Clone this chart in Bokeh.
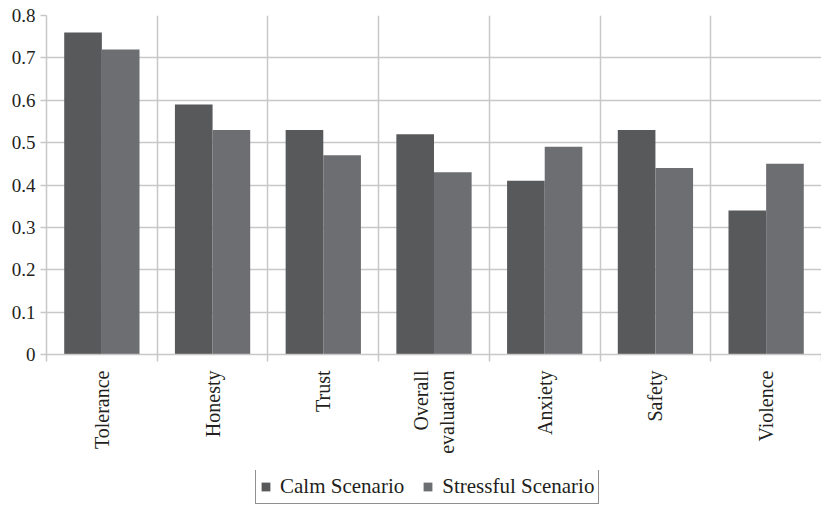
import math
from bokeh.plotting import figure
from bokeh.layouts import column
from bokeh.models import Range1d, FixedTicker, Legend, LegendItem, ColumnDataSource
from bokeh.embed import file_html
from bokeh.resources import INLINE

# Ratings per attribute for the two scenarios
categories = ["Tolerance", "Honesty", "Trust", "Overall\nevaluation", "Anxiety", "Safety", "Violence"]
calm = [0.76, 0.59, 0.53, 0.52, 0.41, 0.53, 0.34]
stressful = [0.72, 0.53, 0.47, 0.43, 0.49, 0.44, 0.45]
y_ticks = [0, 0.1, 0.2, 0.3, 0.4, 0.5, 0.6, 0.7, 0.8]
y_labels = ["0", "0.1", "0.2", "0.3", "0.4", "0.5", "0.6", "0.7", "0.8"]
series_names = ["Calm Scenario", "Stressful Scenario"]

FONT = "Liberation Serif"
TEXT = "#231f20"
GRID = "#c8c8c8"
CALM_COLOR = "#58595b"
STRESS_COLOR = "#6d6e71"
BAR_W = 0.34

n = len(categories)
centers = [i + 0.5 for i in range(n)]
src = ColumnDataSource(dict(
    calm_x=[c - BAR_W / 2 for c in centers],
    stress_x=[c + BAR_W / 2 for c in centers],
    calm=calm,
    stressful=stressful,
))

p = figure(width=821, height=470, output_backend="svg", toolbar_location=None,
           x_range=Range1d(0, n), y_range=Range1d(0, 0.8),
           min_border_left=46, min_border_right=0, min_border_top=15,
           min_border_bottom=116)
p.outline_line_color = None

p.vbar(x="calm_x", top="calm", width=BAR_W, source=src,
       fill_color=CALM_COLOR, line_color=None)
p.vbar(x="stress_x", top="stressful", width=BAR_W, source=src,
       fill_color=STRESS_COLOR, line_color=None)

# x axis: labels at category centres, tick marks at category boundaries
xa = p.xaxis[0]
xa.ticker = FixedTicker(ticks=centers, minor_ticks=list(range(n + 1)))
xa.major_label_overrides = {c: lab for c, lab in zip(centers, categories)}
xa.major_label_orientation = math.pi / 2
xa.major_tick_line_color = None
xa.minor_tick_line_color = GRID
xa.minor_tick_line_width = 1.5
xa.minor_tick_out = 7
xa.minor_tick_in = 0
xa.axis_line_color = GRID
xa.axis_line_width = 1.5
xa.major_label_text_font = FONT
xa.major_label_text_font_size = "20px"
xa.major_label_text_color = TEXT
xa.major_label_standoff = 9

ya = p.yaxis[0]
ya.ticker = FixedTicker(ticks=y_ticks)
ya.major_label_overrides = {t: s for t, s in zip(y_ticks, y_labels)}
ya.minor_tick_line_color = None
ya.major_tick_line_color = GRID
ya.major_tick_line_width = 1.5
ya.major_tick_out = 6
ya.major_tick_in = 0
ya.axis_line_color = GRID
ya.axis_line_width = 1.5
ya.major_label_text_font = FONT
ya.major_label_text_font_size = "19px"
ya.major_label_text_color = TEXT
ya.major_label_standoff = 5

p.xgrid.ticker = FixedTicker(ticks=list(range(n + 1)))
p.xgrid.grid_line_color = GRID
p.xgrid.grid_line_width = 1.5
p.ygrid.ticker = FixedTicker(ticks=y_ticks)
p.ygrid.grid_line_color = GRID
p.ygrid.grid_line_width = 1.5

# Legend strip underneath the chart; its key swatches sit outside the visible range
lg = figure(width=821, height=38, output_backend="svg", toolbar_location=None,
            x_range=Range1d(0, 1), y_range=Range1d(0, 1),
            min_border=0)
lg.axis.visible = False
lg.grid.visible = False
lg.outline_line_color = None
k_calm = lg.quad(left=[-3], right=[-2], bottom=[-3], top=[-2],
                 fill_color=CALM_COLOR, line_color=None)
k_stress = lg.quad(left=[-3], right=[-2], bottom=[-3], top=[-2],
                   fill_color=STRESS_COLOR, line_color=None)

legend = Legend(items=[LegendItem(label=series_names[0], renderers=[k_calm]),
                       LegendItem(label=series_names[1], renderers=[k_stress])],
                orientation="horizontal", location=(209, 4),
                border_line_color=TEXT, border_line_width=1,
                label_text_font=FONT, label_text_font_size="21px",
                label_text_color=TEXT,
                glyph_width=11, glyph_height=11, label_standoff=9,
                spacing=18, padding=4, margin=0,
                label_height=18)
lg.add_layout(legend, "center")

layout = column(p, lg, spacing=0)
open("out.html", "w").write(file_html(layout, INLINE))
